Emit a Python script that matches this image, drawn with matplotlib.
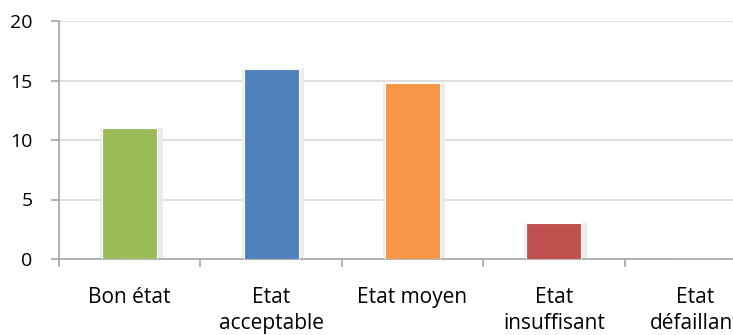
import matplotlib
matplotlib.use("Agg")
import matplotlib.pyplot as plt
import numpy as np

categories = ["Bon état", "Etat\nacceptable", "Etat moyen", "Etat\ninsuffisant", "Etat\ndéfaillant"]
values = [11, 16, 14.8, 3, 0]
colors = ["#9BBB59", "#4F81BD", "#F79646", "#C0504D", "#8064A2"]
y_ticks = [0, 5, 10, 15, 20]

plt.rcParams["font.family"] = ["Open Sans", "DejaVu Sans"]

W, H = 733, 335
fig = plt.figure(figsize=(W / 100, H / 100), dpi=100)
left, right, bottom, top = 59, 766, 259, 21
ax = fig.add_axes([left / W, 1 - bottom / H, (right - left) / W, (bottom - top) / H])

x = np.arange(len(categories))
bar_w = 0.39

# soft shadow behind each bar
for xi, v in zip(x, values):
    if v > 0:
        ax.bar(xi + 0.012, v, width=bar_w + 0.05, color="#ececec", zorder=2, linewidth=0)
ax.bar(x, values, width=bar_w, color=colors, edgecolor="white", linewidth=0.8, zorder=3)

ax.set_xlim(-0.5, len(categories) - 0.5)
ax.set_ylim(0, 20)
ax.set_yticks(y_ticks)
ax.set_yticklabels([str(t) for t in y_ticks], fontsize=14, color="#000000")
ax.yaxis.grid(True, color="#d9d9d9", linewidth=1.2, zorder=0)
ax.set_axisbelow(True)

# category labels centered, tick marks on the boundaries
ax.set_xticks(x)
ax.set_xticklabels(categories, fontsize=15, linespacing=1.3, va="top")
ax.tick_params(axis="x", length=0, pad=20)
ax.set_xticks(np.arange(len(categories) + 1) - 0.5, minor=True)
ax.tick_params(axis="x", which="minor", length=6, width=1.2, color="#a6a6a6", direction="out")
ax.tick_params(axis="y", length=6, width=1.2, color="#a6a6a6", pad=13, direction="out")

for side in ["top", "right"]:
    ax.spines[side].set_visible(False)
for side in ["left", "bottom"]:
    ax.spines[side].set_color("#a6a6a6")
    ax.spines[side].set_linewidth(1.2)

fig.savefig("out.png", dpi=100)
